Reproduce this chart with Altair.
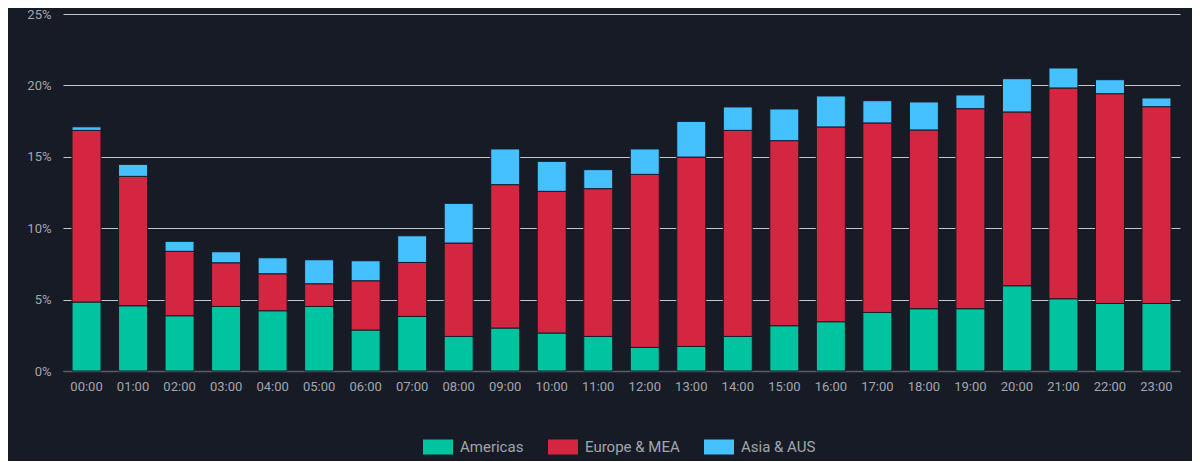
import altair as alt
import pandas as pd

# share of activity per hour (percent)
hours = ["00:00", "01:00", "02:00", "03:00", "04:00", "05:00", "06:00", "07:00",
         "08:00", "09:00", "10:00", "11:00", "12:00", "13:00", "14:00", "15:00",
         "16:00", "17:00", "18:00", "19:00", "20:00", "21:00", "22:00", "23:00"]
americas = [4.83, 4.57, 3.87, 4.52, 4.22, 4.52, 2.87, 3.82, 2.42, 3.01, 2.66, 2.42,
            1.65, 1.72, 2.42, 3.17, 3.45, 4.10, 4.36, 4.36, 5.97, 5.06, 4.73, 4.73]
europe = [12.02, 9.06, 4.51, 3.06, 2.59, 1.59, 3.45, 3.78, 6.54, 10.04, 9.92, 10.35,
          12.12, 13.26, 14.43, 12.96, 13.64, 13.27, 12.52, 14.01, 12.17, 14.76, 14.69, 13.78]
asia = [0.25, 0.84, 0.70, 0.77, 1.12, 1.68, 1.40, 1.87, 2.78, 2.50, 2.10, 1.33,
        1.78, 2.50, 1.64, 2.22, 2.17, 1.56, 1.96, 0.96, 2.33, 1.40, 0.98, 0.61]

regions = ["Americas", "Europe & MEA", "Asia & AUS"]
colors = ["#00c4a0", "#d42541", "#45c1ff"]

rows = []
for series, name in zip([americas, europe, asia], regions):
    for h, v in zip(hours, series):
        rows.append({"hour": h, "share": v, "region": name, "rank": regions.index(name)})
df = pd.DataFrame(rows)

BG = "#171b26"
TXT = "#a3a6ad"

chart = (
    alt.Chart(df)
    .mark_bar(stroke=BG, strokeWidth=1)
    .encode(
        x=alt.X("hour:N", sort=hours, title=None,
                scale=alt.Scale(paddingInner=0.377, paddingOuter=0.194),
                axis=alt.Axis(labelAngle=0, ticks=False, labelPadding=9,
                              domainColor="#5a5e66", domainWidth=1.5)),
        y=alt.Y("share:Q", stack="zero", title=None,
                scale=alt.Scale(domain=[0, 25], nice=False),
                axis=alt.Axis(values=[0, 5, 10, 15, 20, 25], labelExpr="datum.value + '%'",
                              ticks=False, domain=False, labelPadding=12,
                              gridColor={"condition": {"test": "datum.value === 0",
                                                       "value": "#5a5e66"},
                                         "value": "#c4c6ca"})),
        color=alt.Color("region:N", title=None,
                        scale=alt.Scale(domain=regions, range=colors),
                        legend=alt.Legend(orient="none", direction="horizontal",
                                          legendX=360, legendY=418,
                                          columnPadding=24, labelOffset=7,
                                          symbolType="M-1,-0.5H1V0.5H-1Z", symbolSize=900,
                                          symbolStrokeWidth=0, symbolOpacity=1,
                                          labelFontSize=15, labelColor=TXT)),
        order=alt.Order("rank:Q", sort="ascending"),
    )
    .properties(width=1117, height=357,
                autosize=alt.AutoSizeParams(type="none"),
                padding={"left": 55, "top": 6, "right": 12, "bottom": 90})
    .configure(background=BG, font="Roboto")
    .configure_view(stroke=None)
    .configure_axis(labelFontSize=13, labelColor=TXT, gridWidth=1)
)

chart.save("out.html", embed_options={"renderer": "svg", "actions": False})
